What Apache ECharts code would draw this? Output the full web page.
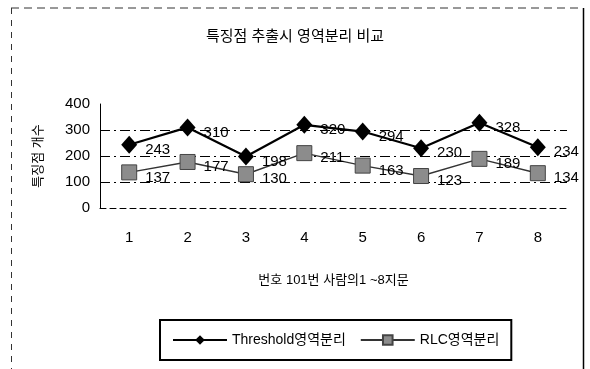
<!DOCTYPE html>
<html><head><meta charset="utf-8">
<script src="https://cdn.jsdelivr.net/npm/echarts@6/dist/echarts.min.js"></script>
<style>html,body{margin:0;padding:0;background:#fff}#c{width:590px;height:369px}</style>
</head><body><div id="c"></div>
<script>
const categories = ['1','2','3','4','5','6','7','8'];
const thresholdValues = [243, 310, 198, 320, 294, 230, 328, 234];
const rlcValues = [137, 177, 130, 211, 163, 123, 189, 134];
const titleText = '특징점 추출시 영역분리 비교';
const yName = '특징점 개수';
const xName = '번호 101번 사람의1 ~8지문';
const seriesNames = ['Threshold영역분리', 'RLC영역분리'];

const FONT = '"Liberation Sans", "Noto Sans CJK KR", sans-serif';
const chart = echarts.init(document.getElementById('c'), null, {renderer: 'canvas'});
chart.setOption({
  backgroundColor: '#fff',
  animation: false,
  textStyle: {fontFamily: FONT, color: '#000'},
  title: {
    text: titleText, left: 'center', top: 24,
    textStyle: {fontSize: 15, fontWeight: 'normal', color: '#000', fontFamily: FONT}
  },
  graphic: [
    {type: 'line', shape: {x1: 11, y1: 8, x2: 583, y2: 8}, style: {stroke: '#333', lineWidth: 1, lineDash: [8, 5]}},
    {type: 'line', shape: {x1: 11.5, y1: 8, x2: 11.5, y2: 369}, style: {stroke: '#333', lineWidth: 1, lineDash: [6, 6]}},
    {type: 'line', shape: {x1: 583.5, y1: 8, x2: 583.5, y2: 369}, style: {stroke: '#000', lineWidth: 1.5}}
  ],
  grid: {left: 100, right: 23, top: 104, bottom: 161},
  legend: {
    top: 320, left: 160,
    data: seriesNames,
    borderColor: '#000', borderWidth: 2, padding: [13, 12],
    itemWidth: 54, itemHeight: 12, itemGap: 14,
    textStyle: {fontSize: 14, color: '#000', fontFamily: FONT}
  },
  xAxis: {
    type: 'category', data: categories, boundaryGap: true,
    name: xName, nameLocation: 'middle', nameGap: 66,
    nameTextStyle: {fontSize: 13, color: '#000', fontFamily: FONT},
    axisLine: {lineStyle: {color: '#000', width: 1, type: [6, 4]}},
    axisTick: {inside: true, length: 5, lineStyle: {color: '#000'}},
    axisLabel: {fontSize: 15, color: '#000', margin: 22},
    splitLine: {show: false}
  },
  yAxis: {
    type: 'value', min: 0, max: 400, interval: 100,
    name: yName, nameLocation: 'middle', nameGap: 55, nameRotate: 90,
    nameTextStyle: {fontSize: 13, color: '#000', fontFamily: FONT},
    axisLine: {show: true, lineStyle: {color: '#000', width: 1}},
    axisTick: {show: false},
    axisLabel: {fontSize: 15, color: '#000', margin: 10},
    splitLine: {show: true, showMinLine: false, showMaxLine: false, lineStyle: {color: '#000', width: 1, type: [10, 4, 2, 4]}}
  },
  series: [
    {
      name: seriesNames[0], type: 'line', data: thresholdValues,
      symbol: 'diamond', symbolSize: [16, 18],
      lineStyle: {color: '#000', width: 2.2},
      itemStyle: {color: '#000'},
      label: {show: true, position: 'right', distance: 8, offset: [0, 5], fontSize: 15, color: '#000'},
      z: 3
    },
    {
      name: seriesNames[1], type: 'line', data: rlcValues,
      symbol: 'rect', symbolSize: 15,
      lineStyle: {color: '#333', width: 1.5},
      itemStyle: {color: '#8c8c8c', borderColor: '#444', borderWidth: 1},
      label: {show: true, position: 'right', distance: 8, offset: [0, 5], fontSize: 15, color: '#000'},
      z: 2
    }
  ]
});
</script></body></html>
